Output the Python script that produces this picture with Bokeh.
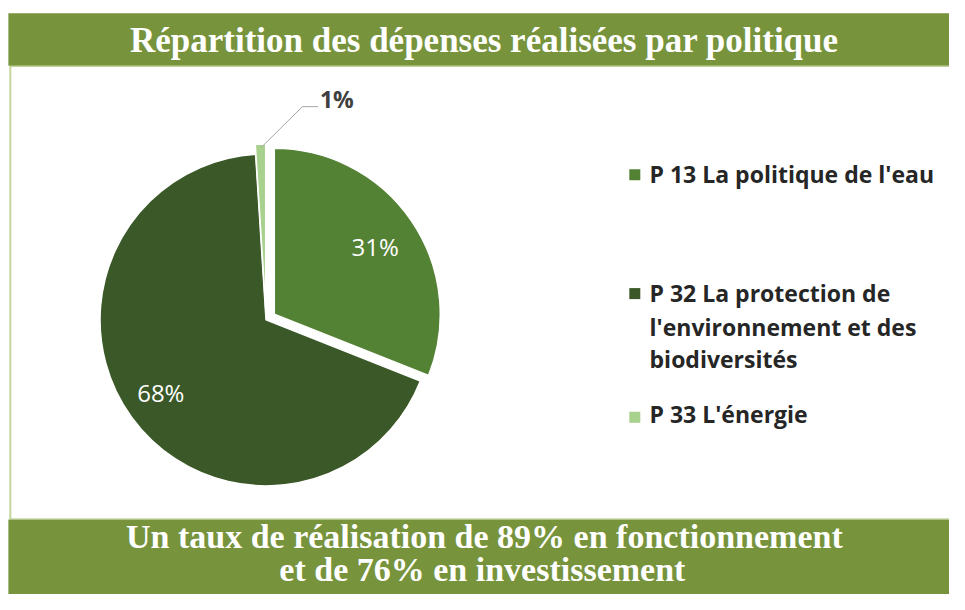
import math
from bokeh.plotting import figure
from bokeh.models import Range1d, ColumnDataSource
from bokeh.core.properties import value
from bokeh.embed import file_html
from bokeh.resources import INLINE

# ---- data ----
categories = ["P 13 La politique de l'eau",
              "P 32 La protection de l'environnement et des biodiversités",
              "P 33 L'énergie"]
legend_lines = [["P 13 La politique de l'eau"],
                ["P 32 La protection de", "l'environnement et des", "biodiversités"],
                ["P 33 L'énergie"]]
shares = [31, 68, 1]
exploded = [True, False, True]
colors = ["#548235", "#3b5828", "#a9d18e"]
title = "Répartition des dépenses réalisées par politique"
footer = ["Un taux de réalisation de 89% en fonctionnement", "et de 76% en investissement"]

W, H = 949, 594
SX, SY = W / 965.0, H / 610.0
BAND = "#77933c"


def X(v):
    return v * SX


def Y(v):
    return H - v * SY


p = figure(width=W, height=H, output_backend="svg", toolbar_location=None,
           x_range=Range1d(0, W), y_range=Range1d(0, H), min_border=0)
p.axis.visible = False
p.grid.visible = False
p.outline_line_color = None
p.background_fill_color = "white"
p.border_fill_color = "white"

# bands and frame
p.quad(left=[X(8)], right=[W + 5], bottom=[Y(67)], top=[Y(13)], fill_color=BAND, line_color=None)
p.quad(left=[X(8)], right=[W + 5], bottom=[-20], top=[Y(533)], fill_color=BAND, line_color=None)
p.segment(x0=[X(10)], y0=[Y(533)], x1=[X(10)], y1=[Y(67)], line_color="#c3d69b", line_width=2)
p.segment(x0=[X(10)], y0=[Y(67.5)], x1=[W], y1=[Y(67.5)], line_color="#a8bf78", line_width=1)
p.segment(x0=[X(10)], y0=[Y(532.5)], x1=[W], y1=[Y(532.5)], line_color="#a8bf78", line_width=1)

p.text(x=[X(492)], y=[Y(41)], text=[title], text_color="white", text_font=value("Liberation Serif"),
       text_font_style="bold", text_font_size="35px", text_align="center", text_baseline="middle")
p.text(x=[X(492), X(490)], y=[Y(550), Y(584)], text=footer, text_color="white",
       text_font=value("Liberation Serif"), text_font_style="bold", text_font_size="34px",
       text_align="center", text_baseline="middle")

# pie
cx, cy, r, ex = X(270), Y(328), 166, 10
total = float(sum(shares))
xs, ys, sa, ea = [], [], [], []
cum = 0.0
for s, e in zip(shares, exploded):
    a0 = math.pi / 2 - 2 * math.pi * (cum + s) / total
    a1 = math.pi / 2 - 2 * math.pi * cum / total
    mid = (a0 + a1) / 2
    d = ex if e else 0
    xs.append(cx + d * math.cos(mid))
    ys.append(cy + d * math.sin(mid))
    sa.append(a0)
    ea.append(a1)
    cum += s
src = ColumnDataSource(dict(x=xs, y=ys, sa=sa, ea=ea, c=colors))
p.wedge(x="x", y="y", radius=r, radius_units="screen", start_angle="sa", end_angle="ea",
        fill_color="c", line_color="white", line_width=1.5, source=src)

labels = [f"{s}%" for s in shares]
p.text(x=[X(381), X(163)], y=[Y(253), Y(403)], text=labels[:2], text_color="white",
       text_font=value("Open Sans"), text_font_size="24px", text_align="center", text_baseline="middle")
p.line(x=[X(265), X(307), X(323)], y=[Y(151), Y(109), Y(109)], line_color="#a6a6a6", line_width=1)
p.text(x=[X(342)], y=[Y(101)], text=[labels[2]], text_color="#404040", text_font=value("Open Sans"),
       text_font_style="bold", text_font_size="23px", text_align="center", text_baseline="middle")

# legend
sq_y = [179, 301, 428]
mid_y = [[178], [300, 335, 368], [425]]
for col, sy, lines, mys in zip(colors, sq_y, legend_lines, mid_y):
    p.rect(x=[X(645)], y=[Y(sy)], width=11, height=11, fill_color=col, line_color=None)
    p.text(x=[X(660)] * len(lines), y=[Y(m) for m in mys], text=lines, text_color="#262626",
           text_font=value("Open Sans"), text_font_style="bold", text_font_size="23px",
           text_align="left", text_baseline="middle")

open("out.html", "w").write(file_html(p, INLINE))
